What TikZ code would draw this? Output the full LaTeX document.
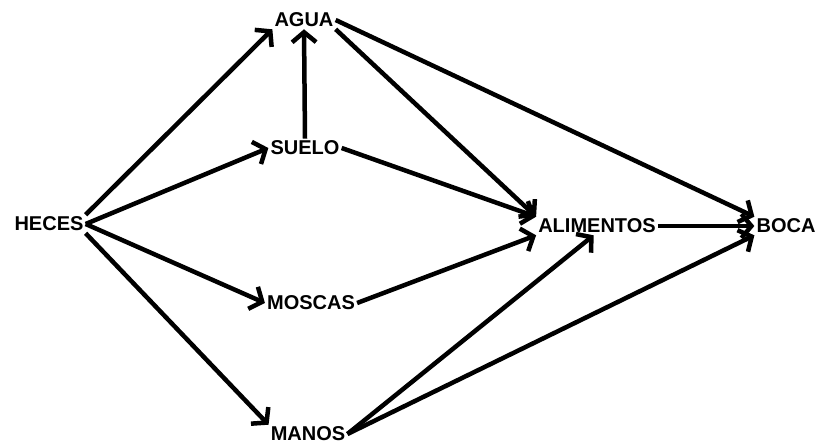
\documentclass[tikz,border=0pt]{standalone}
\usepackage{fontspec}
\setmainfont{Liberation Sans}
\usetikzlibrary{arrows.meta}
\begin{document}
\begin{tikzpicture}[x=1pt,y=-1pt,
  lbl/.style={font=\fontsize{20}{20}\selectfont\bfseries, inner sep=2pt},
  arr/.style={line width=4.5pt, -{Straight Barb[length=10pt,width=24pt,line width=4.5pt]}}]
\useasboundingbox (0,0) rectangle (817,445);
\node[lbl] (heces) at (49,224) {HECES};
\node[lbl] (agua) at (304,20) {AGUA};
\node[lbl] (suelo) at (305,148) {SUELO};
\node[lbl] (moscas) at (311,303) {MOSCAS};
\node[lbl] (manos) at (308,434) {MANOS};
\node[lbl] (alim) at (597,226) {ALIMENTOS};
\node[lbl] (boca) at (786,226) {BOCA};
\draw[arr] (heces.north east) -- (agua.south west);
\draw[arr] (heces.east) -- (suelo.west);
\draw[arr] (heces.east) -- (moscas.west);
\draw[arr] (heces.south east) -- (manos.north west);
\draw[arr] (suelo.north) -- (agua.south);
\draw[arr] (agua.south east) -- (alim.north west);
\draw[arr] (agua.east) -- (boca.north west);
\draw[arr] (suelo.east) -- (alim.north west);
\draw[arr] (moscas.east) -- (alim.south west);
\draw[arr] (manos.east) -- (alim.-110);
\draw[arr] (manos.east) -- (boca.south west);
\draw[arr] (alim.east) -- (boca.west);
\end{tikzpicture}
\end{document}
